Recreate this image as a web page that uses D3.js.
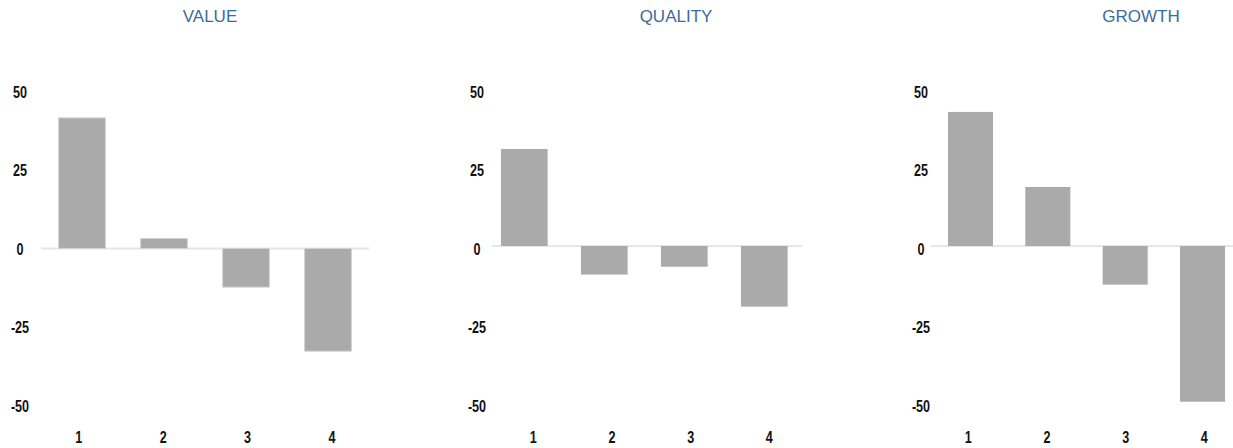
<!DOCTYPE html>
<html>
<head>
<meta charset="utf-8">
<script src="https://cdn.jsdelivr.net/npm/d3@7"></script>
<style>
  html, body { margin: 0; padding: 0; background: #fff; }
  svg { display: block; }
  .tick text { font-family: "Liberation Sans", Arial, sans-serif; font-weight: bold; font-size: 17px; fill: #111; }
  .title { font-family: "Liberation Sans", Arial, sans-serif; font-size: 17px; fill: #3d6b99; }
</style>
</head>
<body>
<svg id="chart" width="1233" height="448"></svg>
<script>
// ---- data ----
const categories = ["1", "2", "3", "4"];
const panelTitles = ["VALUE", "QUALITY", "GROWTH"];
const valueSeries = [41.6, 3.2, -12.3, -32.7];
const qualitySeries = [30.9, -9.1, -6.6, -19.3];
const growthSeries = [42.7, 18.8, -12.3, -49.6];
const yTicks = [50, 25, 0, -25, -50];
const yDomain = [-50, 50];

// ---- layout (positions only) ----
const layouts = [
  { titleX: 210, yLabelX: 20, line: [41, 369], bars: [41, 369], pad: 0.43, labels: [36.5, 374.2], zero: 248.5, stroke: "#d2d2d2" },
  { titleX: 676, yLabelX: 477, line: [492, 802], bars: [484.3, 804.3], pad: 0.416, labels: [494, 808.7], zero: 246, stroke: "none" },
  { titleX: 1141, yLabelX: 921, line: [931, 1233], bars: [931.8, 1241.2], pad: 0.418, labels: [929, 1243.7], zero: 246, stroke: "none" }
];
const seriesList = [valueSeries, qualitySeries, growthSeries];
const halfSpan = 157;
const narrow = "scale(0.74,1)";

const svg = d3.select("#chart");
const yLabelScale = d3.scaleLinear().domain(yDomain).range([405, 91]);

panelTitles.forEach((title, i) => {
  const L = layouts[i];
  const data = seriesList[i];
  const g = svg.append("g");

  const y = d3.scaleLinear().domain(yDomain).range([L.zero + halfSpan, L.zero - halfSpan]);
  const x = d3.scaleBand().domain(categories).range(L.bars).paddingInner(L.pad).paddingOuter(L.pad / 2);
  const xl = d3.scaleBand().domain(categories).range(L.labels);

  // title
  g.append("text").attr("class", "title")
    .attr("x", L.titleX).attr("y", 22)
    .attr("text-anchor", "middle").text(title);

  // y tick labels
  const yAxis = g.append("g")
    .attr("transform", `translate(${L.yLabelX},0)`)
    .call(d3.axisLeft(yLabelScale).tickValues(yTicks).tickSize(0).tickPadding(0).tickFormat(d => String(d)));
  yAxis.select(".domain").remove();
  yAxis.selectAll("text").attr("text-anchor", "middle").attr("x", 0).attr("dy", "0.36em").attr("transform", narrow);

  // zero line
  g.append("line")
    .attr("x1", L.line[0]).attr("x2", L.line[1])
    .attr("y1", y(0)).attr("y2", y(0))
    .attr("stroke", "#e6e6e6").attr("stroke-width", 2);

  // bars
  g.selectAll("rect.bar").data(data).join("rect")
    .attr("class", "bar")
    .attr("x", (d, j) => x(categories[j]))
    .attr("width", x.bandwidth())
    .attr("y", d => y(Math.max(0, d)))
    .attr("height", d => Math.abs(y(d) - y(0)))
    .attr("fill", "#aaaaaa")
    .attr("stroke", L.stroke).attr("stroke-width", 1);

  // x labels
  const xAxis = g.append("g")
    .attr("transform", "translate(0,443)")
    .call(d3.axisBottom(xl).tickSize(0).tickPadding(0));
  xAxis.select(".domain").remove();
  xAxis.selectAll("text").attr("dy", 0).attr("y", 0).attr("transform", narrow);
});
</script>
</body>
</html>
